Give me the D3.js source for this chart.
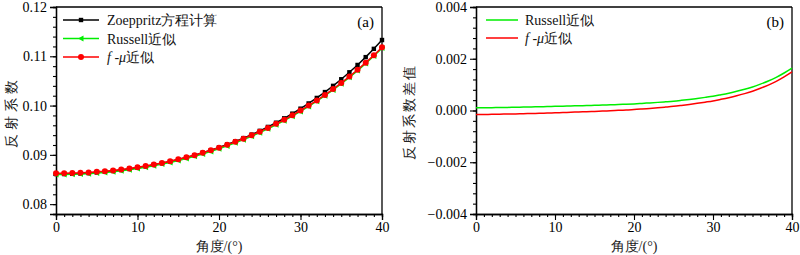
<!DOCTYPE html>
<html><head><meta charset="utf-8">
<script src="https://cdn.jsdelivr.net/npm/d3@7"></script>
</head><body style="margin:0;background:#fff">
<svg id="c" width="800" height="255" font-family="Liberation Serif" style="font-family:'Liberation Serif'"></svg>
<script>
const angles = d3.range(0, 41);
const zoeppritz = [0.08610,0.08611,0.08615,0.08621,0.08630,0.08642,0.08656,0.08673,0.08692,0.08714,0.08739,0.08766,0.08797,0.08830,0.08866,0.08905,0.08948,0.08993,0.09042,0.09094,0.09150,0.09209,0.09273,0.09340,0.09411,0.09487,0.09567,0.09652,0.09741,0.09836,0.09937,0.10043,0.10155,0.10274,0.10400,0.10534,0.10675,0.10824,0.10983,0.11151,0.11330];
const russell = [0.08600,0.08600,0.08604,0.08610,0.08618,0.08630,0.08643,0.08659,0.08678,0.08699,0.08723,0.08749,0.08779,0.08812,0.08847,0.08885,0.08927,0.08971,0.09019,0.09070,0.09124,0.09182,0.09244,0.09309,0.09377,0.09451,0.09528,0.09609,0.09694,0.09785,0.09882,0.09982,0.10088,0.10200,0.10318,0.10443,0.10573,0.10710,0.10855,0.11006,0.11166];
const fmu = [0.08626,0.08626,0.08630,0.08635,0.08644,0.08655,0.08668,0.08685,0.08703,0.08724,0.08748,0.08774,0.08804,0.08836,0.08871,0.08909,0.08950,0.08994,0.09042,0.09092,0.09146,0.09203,0.09265,0.09329,0.09398,0.09471,0.09547,0.09629,0.09713,0.09804,0.09900,0.10000,0.10105,0.10217,0.10335,0.10460,0.10589,0.10726,0.10871,0.11021,0.11181];
const russellDiff = [0.000104,0.000107,0.000111,0.000115,0.000120,0.000125,0.000131,0.000138,0.000145,0.000152,0.000160,0.000168,0.000176,0.000184,0.000192,0.000200,0.000210,0.000220,0.000231,0.000243,0.000256,0.000274,0.000294,0.000314,0.000336,0.000360,0.000392,0.000427,0.000466,0.000507,0.000550,0.000608,0.000670,0.000740,0.000820,0.000910,0.00102,0.00114,0.00128,0.00145,0.00164];
const fmuDiff = [-0.000156,-0.000153,-0.000148,-0.000143,-0.000137,-0.000131,-0.000124,-0.000116,-0.000108,-0.000100,-0.000090,-0.000079,-0.000068,-0.000057,-0.000046,-0.000035,-0.000022,-0.000009,0.000005,0.000020,0.000036,0.000058,0.000082,0.000106,0.000132,0.000160,0.000196,0.000235,0.000278,0.000323,0.000370,0.000431,0.000496,0.000569,0.000652,0.000745,0.000858,0.000981,0.001124,0.001297,0.00149];
const xTicks = [0,10,20,30,40];
const yTicksA = [0.08,0.09,0.10,0.11,0.12];
const yTicksB = [-0.004,-0.002,0.000,0.002,0.004];
const legendA = ["Zoeppritz方程计算","Russell近似","f-μ近似"];
const legendB = ["Russell近似","f-μ近似"];
const labelsA = {x:"角度/(°)", y:"反射系数", tag:"(a)"};
const labelsB = {x:"角度/(°)", y:"反射系数差值", tag:"(b)"};

const svg = d3.select("#c");
const FS = 14;
const SERIF = "Liberation Serif";

function legendText(sel, t){
  if (t.startsWith("f-μ")) {
    sel.append("tspan").attr("font-style","italic").text("f");
    sel.append("tspan").text(" -");
    sel.append("tspan").attr("font-style","italic").text("μ");
    sel.append("tspan").text(t.slice(3));
  } else sel.text(t);
}

function panel(opt){
  const g = svg.append("g");
  const x = d3.scaleLinear().domain([0,40]).range([opt.x0, opt.x1]);
  const y = d3.scaleLinear().domain(opt.ydom).range([214, 7]);
  g.append("line").attr("x1",opt.x0).attr("x2",opt.x1).attr("y1",7).attr("y2",7).attr("stroke","#000").attr("stroke-width",1.3);
  g.append("line").attr("x1",opt.x1).attr("x2",opt.x1).attr("y1",7).attr("y2",214).attr("stroke","#000").attr("stroke-width",1.3);
  const xa = g.append("g").attr("transform","translate(0,214)");
  xa.call(d3.axisBottom(x).tickValues(d3.range(0,41,1)).tickSize(3).tickFormat(""));
  xa.append("g").call(d3.axisBottom(x).tickValues(xTicks).tickSize(6).tickPadding(2).tickFormat(d3.format("d")));
  const ya = g.append("g").attr("transform",`translate(${opt.x0},0)`);
  ya.call(d3.axisLeft(y).tickValues(opt.minor).tickSize(3).tickFormat(""));
  ya.append("g").call(d3.axisLeft(y).tickValues(opt.yticks).tickSize(6).tickPadding(3).tickFormat(opt.fmt));
  g.selectAll(".domain").attr("stroke","#000").attr("stroke-width",1.3);
  g.selectAll(".tick line").attr("stroke","#000").attr("stroke-width",1.1);
  g.selectAll("g").attr("font-family", SERIF);
  g.selectAll(".tick text").attr("font-size",FS).attr("fill","#000").attr("font-family",SERIF);
  g.append("text").attr("x",(opt.x0+opt.x1)/2).attr("y",251).attr("text-anchor","middle").attr("font-size",FS).attr("font-family",SERIF).attr("fill","#222").text(opt.labels.x);
  g.append("text").attr("transform",`translate(${opt.ylx},112) rotate(-90)`).attr("text-anchor","middle").attr("font-size",FS).attr("font-family",SERIF).attr("letter-spacing",opt.ls).attr("fill","#222").text(opt.labels.y);
  g.append("text").attr("x",opt.x1-8).attr("y",27).attr("text-anchor","end").attr("font-size",FS+1).attr("font-family",SERIF).attr("fill","#000").text(opt.labels.tag);
  return {g,x,y};
}

const A = panel({x0:56,x1:382,ydom:[0.078,0.12],yticks:yTicksA,minor:d3.range(0,22).map(i=>0.078+i*0.002),fmt:d3.format(".2f"),labels:labelsA,ylx:16,ls:4});
const seriesA = [
  {vals:zoeppritz,color:"#000000",mark:"square"},
  {vals:russell,color:"#00ee00",mark:"tri"},
  {vals:fmu,color:"#ff0000",mark:"circle"}
];
function drawMark(sel, type, color){
  if (type==="square") sel.append("rect").attr("x",-2.2).attr("y",-2.2).attr("width",4.4).attr("height",4.4).attr("fill",color);
  else if (type==="tri") sel.append("path").attr("d","M-3,0L2.5,-3L2.5,3Z").attr("fill",color);
  else sel.append("circle").attr("r",3).attr("fill",color);
}
const lineA = d3.line().x((d,i)=>A.x(angles[i])).y(d=>A.y(d));
seriesA.forEach(s=>{
  A.g.append("path").datum(s.vals).attr("d",lineA).attr("fill","none").attr("stroke",s.color).attr("stroke-width",1.5);
  s.vals.forEach((v,i)=>{
    const m = A.g.append("g").attr("transform",`translate(${A.x(angles[i])},${A.y(v)})`);
    drawMark(m,s.mark,s.color);
  });
});
seriesA.forEach((s,i)=>{
  const ly = 20 + i*18.5;
  A.g.append("line").attr("x1",63).attr("x2",99).attr("y1",ly).attr("y2",ly).attr("stroke",s.color).attr("stroke-width",1.5);
  const m = A.g.append("g").attr("transform",`translate(81,${ly})`);
  drawMark(m,s.mark,s.color);
  const t = A.g.append("text").attr("x",107).attr("y",ly+5).attr("font-size",FS).attr("font-family",SERIF).attr("fill","#111");
  legendText(t, legendA[i]);
});

const B = panel({x0:476,x1:792,ydom:[-0.004,0.004],yticks:yTicksB,minor:d3.range(0,21).map(i=>-0.004+i*0.0004),fmt:d3.format(".3f"),labels:labelsB,ylx:414,ls:2});
const lineB = d3.line().x((d,i)=>B.x(angles[i])).y(d=>B.y(d)).curve(d3.curveMonotoneX);
const seriesB = [{vals:russellDiff,color:"#00ee00"},{vals:fmuDiff,color:"#ff0000"}];
seriesB.forEach((s,i)=>{
  B.g.append("path").datum(s.vals).attr("d",lineB).attr("fill","none").attr("stroke",s.color).attr("stroke-width",1.5);
  const ly = 20 + i*18;
  B.g.append("line").attr("x1",486).attr("x2",518).attr("y1",ly).attr("y2",ly).attr("stroke",s.color).attr("stroke-width",1.5);
  const t = B.g.append("text").attr("x",525).attr("y",ly+5).attr("font-size",FS).attr("font-family",SERIF).attr("fill","#111");
  legendText(t, legendB[i]);
});
</script></body></html>
